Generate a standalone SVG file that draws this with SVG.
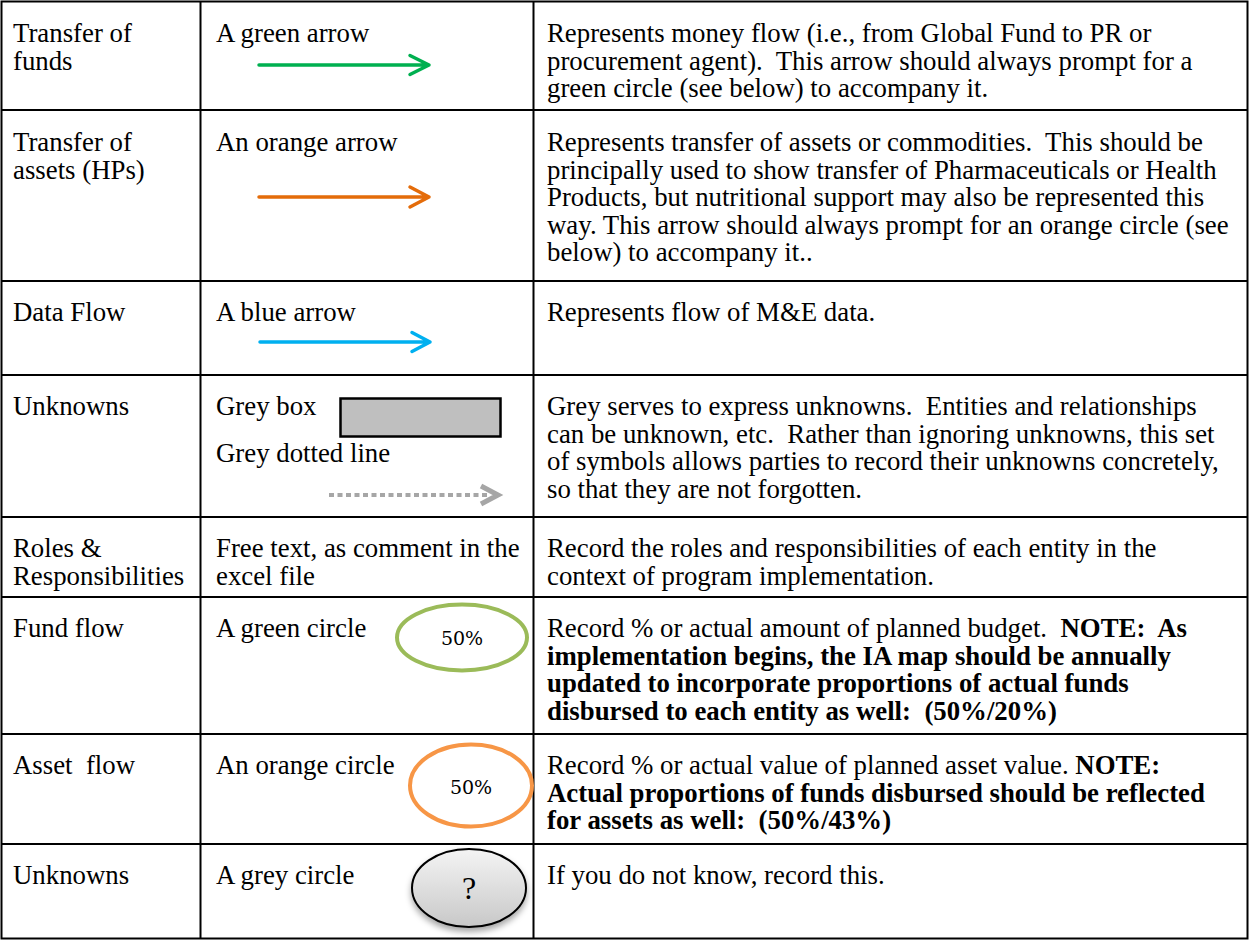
<svg xmlns="http://www.w3.org/2000/svg" width="1249" height="940" viewBox="0 0 1249 940">
<style>
text{font-family:"Liberation Serif","Times New Roman",serif;font-size:26.8px;fill:#000}
.b{font-weight:bold}
.grid{stroke:#000;stroke-width:2;fill:none}
.arr{fill:none;stroke-width:3.5;stroke-linecap:round;stroke-linejoin:round}
.pct{font-family:"DejaVu Serif","Liberation Serif",serif;font-size:19px;text-anchor:middle}
</style>
<defs>
<linearGradient id="gg" x1="0" y1="0" x2="0" y2="1">
<stop offset="0" stop-color="#F4F4F4"/>
<stop offset="1" stop-color="#C8C8C8"/>
</linearGradient>
<filter id="sh" x="-20%" y="-20%" width="140%" height="150%">
<feDropShadow dx="0" dy="4" stdDeviation="3" flood-color="#000" flood-opacity="0.35"/>
</filter>
</defs>
<rect width="1249" height="940" fill="#fff"/>
<g id="table" class="grid">
<rect x="1.5" y="1.5" width="1246" height="937"/>
<line x1="200.5" y1="1.5" x2="200.5" y2="938.5"/>
<line x1="533.5" y1="1.5" x2="533.5" y2="938.5"/>
<line x1="1.5" y1="110" x2="1247.5" y2="110"/>
<line x1="1.5" y1="281" x2="1247.5" y2="281"/>
<line x1="1.5" y1="375" x2="1247.5" y2="375"/>
<line x1="1.5" y1="517" x2="1247.5" y2="517"/>
<line x1="1.5" y1="597" x2="1247.5" y2="597"/>
<line x1="1.5" y1="734" x2="1247.5" y2="734"/>
<line x1="1.5" y1="844" x2="1247.5" y2="844"/>
</g>
<g id="row-transfer-funds">
<text x="13" y="42">Transfer of</text>
<text x="13" y="69.5">funds</text>
<text x="216" y="42">A green arrow</text>
<text x="547" y="42">Represents money flow (i.e., from Global Fund to PR or</text>
<text x="547" y="69.5" xml:space="preserve">procurement agent).  This arrow should always prompt for a</text>
<text x="547" y="97">green circle (see below) to accompany it.</text>
</g>
<g id="row-transfer-assets">
<text x="13" y="151">Transfer of</text>
<text x="13" y="178.5">assets (HPs)</text>
<text x="216" y="151">An orange arrow</text>
<text x="547" y="151" xml:space="preserve">Represents transfer of assets or commodities.  This should be</text>
<text x="547" y="178.5">principally used to show transfer of Pharmaceuticals or Health</text>
<text x="547" y="206">Products, but nutritional support may also be represented this</text>
<text x="547" y="233.5">way. This arrow should always prompt for an orange circle (see</text>
<text x="547" y="261">below) to accompany it..</text>
</g>
<g id="row-data-flow">
<text x="13" y="321">Data Flow</text>
<text x="216" y="321">A blue arrow</text>
<text x="547" y="321">Represents flow of M&amp;E data.</text>
</g>
<g id="row-unknowns">
<text x="13" y="415">Unknowns</text>
<text x="216" y="415">Grey box</text>
<rect x="340.5" y="398.5" width="160" height="38" fill="#BFBFBF" stroke="#000" stroke-width="2.5"/>
<text x="216" y="462">Grey dotted line</text>
<text x="547" y="415" xml:space="preserve">Grey serves to express unknowns.  Entities and relationships</text>
<text x="547" y="442.5" xml:space="preserve">can be unknown, etc.  Rather than ignoring unknowns, this set</text>
<text x="547" y="470">of symbols allows parties to record their unknowns concretely,</text>
<text x="547" y="497.5">so that they are not forgotten.</text>
</g>
<g id="row-roles">
<text x="13" y="557">Roles &amp;</text>
<text x="13" y="584.5">Responsibilities</text>
<text x="216" y="557">Free text, as comment in the</text>
<text x="216" y="584.5">excel file</text>
<text x="547" y="557">Record the roles and responsibilities of each entity in the</text>
<text x="547" y="584.5">context of program implementation.</text>
</g>
<g id="row-fund-flow">
<text x="13" y="637">Fund flow</text>
<text x="216" y="637">A green circle</text>
<ellipse cx="462" cy="637.5" rx="65" ry="33" fill="none" stroke="#9BBB59" stroke-width="4"/>
<text class="pct" x="462" y="645">50%</text>
<text x="547" y="637" xml:space="preserve">Record % or actual amount of planned budget.  <tspan class="b">NOTE:  As</tspan></text>
<text class="b" x="547" y="664.5">implementation begins, the IA map should be annually</text>
<text class="b" x="547" y="692">updated to incorporate proportions of actual funds</text>
<text class="b" x="547" y="719.5" xml:space="preserve">disbursed to each entity as well:  (50%/20%)</text>
</g>
<g id="row-asset-flow">
<text x="13" y="774" xml:space="preserve">Asset  flow</text>
<text x="216" y="774">An orange circle</text>
<ellipse cx="471" cy="785.5" rx="61" ry="41" fill="none" stroke="#F79646" stroke-width="4"/>
<text class="pct" x="471" y="794">50%</text>
<text x="547" y="774">Record % or actual value of planned asset value. <tspan class="b">NOTE:</tspan></text>
<text class="b" x="547" y="801.5">Actual proportions of funds disbursed should be reflected</text>
<text class="b" x="547" y="829" xml:space="preserve">for assets as well:  (50%/43%)</text>
</g>
<g id="row-unknowns-circle">
<text x="13" y="884">Unknowns</text>
<text x="216" y="884">A grey circle</text>
<ellipse cx="469" cy="888" rx="57" ry="39" fill="url(#gg)" stroke="#000" stroke-width="2" filter="url(#sh)"/>
<text x="469" y="899" style="font-size:32px;text-anchor:middle">?</text>
<text x="547" y="884">If you do not know, record this.</text>
</g>
<g id="connectors">
<path class="arr" stroke="#00B050" d="M259 65H429M410 55.5L429 65L410 74.5"/>
<path class="arr" stroke="#E46C0A" d="M259 197H429M410 187L429 197L410 207"/>
<path class="arr" stroke="#00B0F0" d="M260 342H430M412 332.5L430 342L412 351.5"/>
<line x1="329" y1="495" x2="489" y2="495" stroke="#A6A6A6" stroke-width="4" stroke-dasharray="5 3.5"/>
<path d="M481 486L498 495L481 504" fill="none" stroke="#A6A6A6" stroke-width="5" stroke-linejoin="miter"/>
</g>
</svg>
